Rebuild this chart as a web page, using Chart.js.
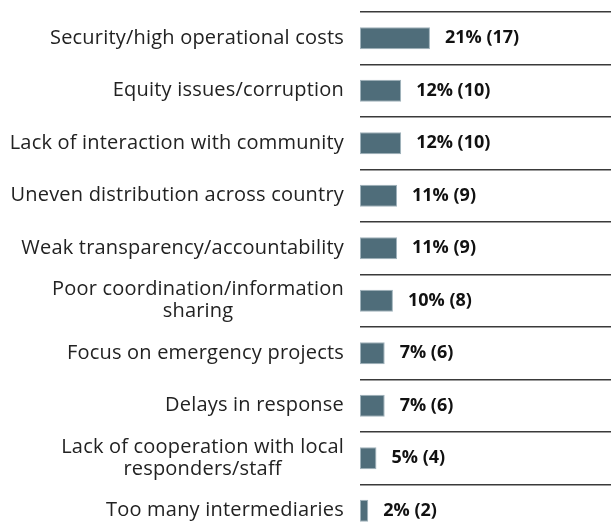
<!DOCTYPE html>
<html>
<head>
<meta charset="utf-8">
<script src="https://cdn.jsdelivr.net/npm/chart.js@4.4.1/dist/chart.umd.min.js"></script>
<style>
    html, body { margin: 0; padding: 0; background: #fff; overflow: hidden; }
    #wrap { width: 611px; height: 545px; }
</style>
</head>
<body>
<div id="wrap"><canvas id="challengesChart"></canvas></div>
<script>
// Challenges named by respondents
const categories = [
    ['Security/high operational costs'],
    ['Equity issues/corruption'],
    ['Lack of interaction with community'],
    ['Uneven distribution across country'],
    ['Weak transparency/accountability'],
    ['Poor coordination/information', 'sharing'],
    ['Focus on emergency projects'],
    ['Delays in response'],
    ['Lack of cooperation with local', 'responders/staff'],
    ['Too many intermediaries']
];
const counts = [17, 10, 10, 9, 9, 8, 6, 6, 4, 2];
const percents = [21, 12, 12, 11, 11, 10, 7, 7, 5, 2];

const barColor = '#4f6d7a';
const textFont = '"Open Sans", sans-serif';

// Category names drawn left of the plot, centered line by line, right edge at the plot
const categoryLabels = {
    id: 'categoryLabels',
    afterDraw(chart) {
        const { ctx, scales: { y }, chartArea } = chart;
        const rightEdge = chartArea.left - 16;
        const lineHeight = 22;
        ctx.save();
        ctx.font = '20px ' + textFont;
        ctx.letterSpacing = '0.2px';
        ctx.fillStyle = '#222';
        ctx.textBaseline = 'middle';
        ctx.textAlign = 'center';
        categories.forEach((lines, i) => {
            const yc = y.getPixelForValue(i);
            const maxW = Math.max(...lines.map(l => ctx.measureText(l).width));
            const cx = rightEdge - maxW / 2;
            const top = yc - (lines.length - 1) * lineHeight / 2;
            lines.forEach((l, j) => ctx.fillText(l, cx, top + j * lineHeight));
        });
        ctx.restore();
    }
};

// "21% (17)" style labels after each bar
const valueLabels = {
    id: 'valueLabels',
    afterDatasetsDraw(chart) {
        const { ctx } = chart;
        const meta = chart.getDatasetMeta(0);
        ctx.save();
        ctx.font = 'bold 18px ' + textFont;
        ctx.fillStyle = '#111';
        ctx.textBaseline = 'middle';
        ctx.textAlign = 'left';
        meta.data.forEach((bar, i) => {
            ctx.fillText(`${percents[i]}% (${counts[i]})`, bar.x + 15, bar.y);
        });
        ctx.restore();
    }
};

new Chart(document.getElementById('challengesChart'), {
    type: 'bar',
    data: {
        labels: categories.map(l => l.join(' ')),
        datasets: [{
            data: counts,
            backgroundColor: barColor,
            borderColor: '#9fb2bb',
            borderWidth: 1,
            borderSkipped: false,
            barPercentage: 0.84,
            categoryPercentage: 0.5
        }]
    },
    options: {
        indexAxis: 'y',
        responsive: true,
        maintainAspectRatio: false,
        animation: false,
        layout: { padding: { top: 12, bottom: 8, left: 0, right: 0 } },
        scales: {
            x: {
                display: false,
                min: 0,
                max: 61
            },
            y: {
                afterFit: scale => { scale.width = 360; },
                ticks: { display: false },
                border: { display: false },
                grid: {
                    offset: true,
                    color: '#3a3a3a',
                    lineWidth: 1.5,
                    drawTicks: false
                }
            }
        },
        plugins: {
            legend: { display: false },
            tooltip: { enabled: false }
        }
    },
    plugins: [categoryLabels, valueLabels]
});
</script>
</body>
</html>
